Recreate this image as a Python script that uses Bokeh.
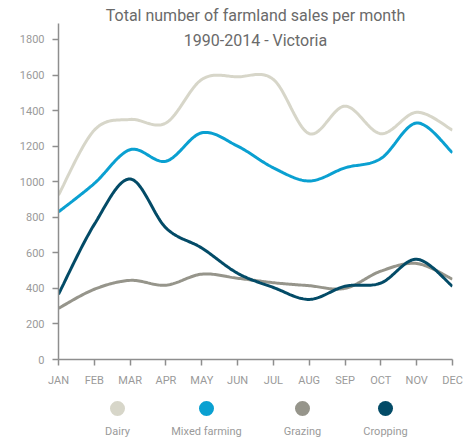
from bokeh.plotting import figure
from bokeh.models import Range1d, FixedTicker, Label
from bokeh.layouts import column
from bokeh.core.properties import value
from bokeh.embed import file_html
from bokeh.resources import INLINE
import numpy as np

months = ["JAN", "FEB", "MAR", "APR", "MAY", "JUN", "JUL", "AUG", "SEP", "OCT", "NOV", "DEC"]
dairy = [925, 1290, 1350, 1330, 1575, 1590, 1575, 1270, 1425, 1270, 1390, 1290]
mixed_farming = [830, 990, 1180, 1115, 1275, 1200, 1078, 1004, 1078, 1130, 1330, 1163]
grazing = [288, 395, 445, 418, 480, 457, 432, 415, 400, 497, 540, 452]
cropping = [367, 760, 1015, 740, 627, 485, 405, 338, 412, 430, 564, 412]
y_ticks = [0, 200, 400, 600, 800, 1000, 1200, 1400, 1600, 1800]

series = [
    ("Dairy", dairy, "#d7d6c9"),
    ("Mixed farming", mixed_farming, "#0aa0d1"),
    ("Grazing", grazing, "#96958b"),
    ("Cropping", cropping, "#034b67"),
]

FONT = "Roboto"
AXIS_COL = "#8e8e8e"
TEXT_COL = "#9a9a9a"


def catmull_rom(ys, n=24):
    xs = np.arange(len(ys), dtype=float)
    ys = np.asarray(ys, dtype=float)
    px = np.concatenate([[xs[0]], xs, [xs[-1]]])
    py = np.concatenate([[ys[0]], ys, [ys[-1]]])
    out_x, out_y = [], []
    for i in range(1, len(px) - 2):
        t = np.linspace(0, 1, n, endpoint=False)
        for arr, out in ((px, out_x), (py, out_y)):
            p0, p1, p2, p3 = arr[i - 1], arr[i], arr[i + 1], arr[i + 2]
            out.extend(0.5 * ((2 * p1) + (-p0 + p2) * t
                              + (2 * p0 - 5 * p1 + 4 * p2 - p3) * t ** 2
                              + (-p0 + 3 * p1 - 3 * p2 + p3) * t ** 3))
    out_x.append(px[-2])
    out_y.append(py[-2])
    return out_x, out_y


p = figure(width=472, height=392, output_backend="svg", toolbar_location=None,
           x_range=Range1d(0, 11), y_range=Range1d(0, 2019),
           min_border_left=58, min_border_right=20, min_border_top=0, min_border_bottom=33)
p.outline_line_color = None
p.grid.grid_line_color = None
p.background_fill_color = "white"

for name, ys, col in series:
    cx, cy = catmull_rom(ys)
    p.line(cx, cy, line_color=col, line_width=3)

p.xaxis.ticker = FixedTicker(ticks=list(range(12)))
p.xaxis.major_label_overrides = {i: m for i, m in enumerate(months)}
p.yaxis.ticker = FixedTicker(ticks=y_ticks)
p.yaxis.bounds = (0, 1890)
for ax in (p.xaxis, p.yaxis):
    ax.axis_line_color = AXIS_COL
    ax.axis_line_width = 1.5
    ax.major_tick_line_color = AXIS_COL
    ax.major_tick_line_width = 1.5
    ax.major_tick_out = 6
    ax.major_tick_in = 0
    ax.minor_tick_line_color = None
    ax.major_label_text_color = TEXT_COL
    ax.major_label_text_font = FONT
    ax.major_label_text_font_size = "11px"
    ax.major_label_standoff = 8

p.add_layout(Label(x=5.5, y=1935, text="Total number of farmland sales per month",
                   text_align="center", text_baseline="middle", text_font=FONT,
                   text_font_size="16px", text_color="#6a6a6a"))
p.add_layout(Label(x=5.5, y=1794, text="1990-2014 - Victoria",
                   text_align="center", text_baseline="middle", text_font=FONT,
                   text_font_size="16px", text_color="#6a6a6a"))

leg = figure(width=472, height=49, output_backend="svg", toolbar_location=None,
             x_range=Range1d(58, 452), y_range=Range1d(0, 49),
             x_axis_location=None, y_axis_location=None,
             min_border_left=58, min_border_right=20, min_border_top=0, min_border_bottom=0,
             outline_line_color=None)
leg.grid.grid_line_color = None
leg_x = [117, 206, 302, 385]
names = [s[0] for s in series]
cols = [s[2] for s in series]
leg.scatter(leg_x, [33] * 4, size=15, fill_color=cols, line_color=None)
leg.text(leg_x, [10] * 4, text=names, text_align="center", text_baseline="middle",
         text_font=value(FONT), text_font_size="11px", text_color=TEXT_COL)

layout = column(p, leg, spacing=0)
open("out.html", "w").write(file_html(layout, INLINE))
